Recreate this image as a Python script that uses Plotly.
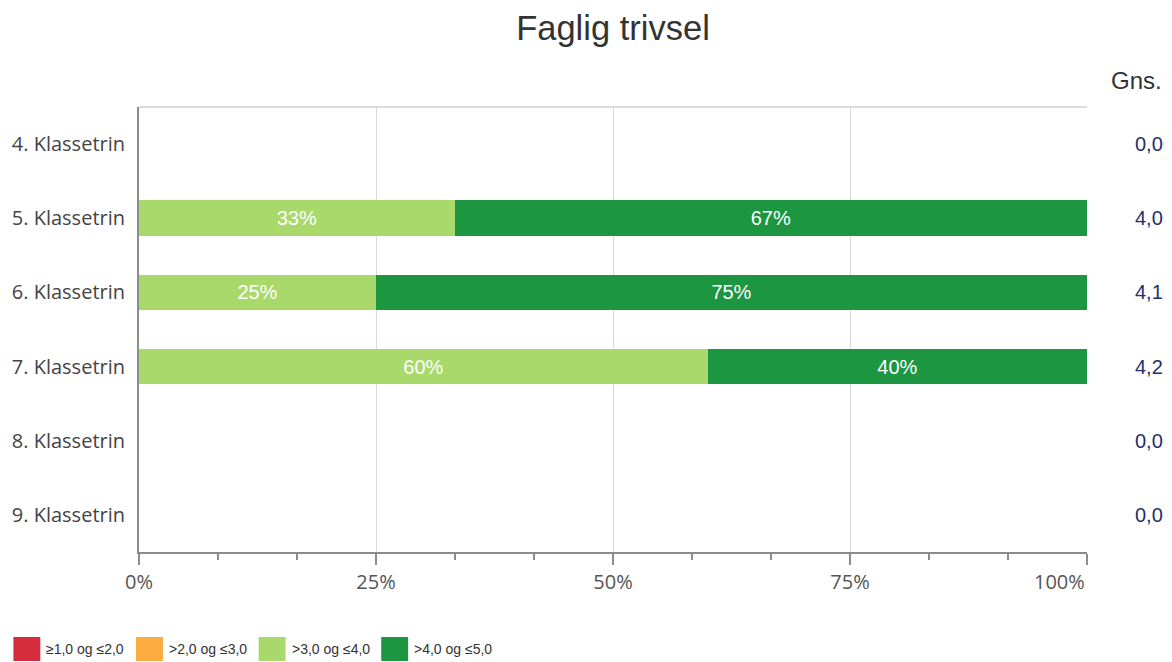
import plotly.graph_objects as go

categories = ["4. Klassetrin", "5. Klassetrin", "6. Klassetrin", "7. Klassetrin", "8. Klassetrin", "9. Klassetrin"]
series_names = ["≥1,0 og ≤2,0", ">2,0 og ≤3,0", ">3,0 og ≤4,0", ">4,0 og ≤5,0"]
series_colors = ["#d62d3e", "#fbad40", "#a8d96a", "#1c9641"]
s1 = [0, 0, 0, 0, 0, 0]
s2 = [0, 0, 0, 0, 0, 0]
s3 = [0, 33.3, 25, 60, 0, 0]
s4 = [0, 66.7, 75, 40, 0, 0]
series_values = [s1, s2, s3, s4]
gns = ["0,0", "4,0", "4,1", "4,2", "0,0", "0,0"]
x_ticks = [0, 25, 50, 75, 100]
x_ticktext = [f"{v}%" for v in x_ticks]

ARIAL = "Liberation Sans, Arial, sans-serif"
AXIS = "Open Sans, Lato, sans-serif"

# plot area in pixels (for legend placement)
PL, PR, PT, PB = 136, 1087, 107, 552
PW, PH = PR - PL, PB - PT

fig = go.Figure()
for name, color, vals in zip(series_names, series_colors, series_values):
    fig.add_trace(go.Bar(
        y=categories, x=vals, name=name, orientation="h",
        marker=dict(color=color, line=dict(width=0)),
        text=[v if v > 0 else None for v in vals],
        texttemplate="%{x:.0f}%", textposition="inside", insidetextanchor="middle",
        textfont=dict(color="white", size=20, family=ARIAL),
        showlegend=False, hoverinfo="skip",
    ))

annotations = [dict(text="Gns.", xref="paper", yref="paper", x=1.0, y=1.0, xanchor="right", yanchor="middle",
                    xshift=1164 - PR, yshift=PT - 80, showarrow=False,
                    font=dict(size=24, color="#333333", family=ARIAL))]
for cat, g in zip(categories, gns):
    annotations.append(dict(text=g, xref="paper", yref="y", x=1.0, y=cat, xanchor="left", yanchor="middle",
                            xshift=1133 - PR, showarrow=False, font=dict(size=20, color="#1f3070", family=ARIAL)))

# last x tick label is justified inside (right-aligned at its tick)
annotations.append(dict(text=x_ticktext[-1], xref="x", yref="paper", x=x_ticks[-1], y=0, xanchor="right",
                        yanchor="top", yshift=-14, showarrow=False,
                        font=dict(size=20, color="#555555", family=AXIS)))
shown_ticktext = x_ticktext[:-1] + [""]

# top border of plot area
shapes = [dict(type="line", xref="paper", yref="paper", x0=0, x1=1, y0=1, y1=1,
               line=dict(color="#d0d0d0", width=1.5))]

# legend built from series names/colours
for i, (name, color) in enumerate(zip(series_names, series_colors)):
    x0 = 10 + i * 123
    shapes.append(dict(type="rect", xref="paper", yref="paper",
                       x0=(x0 - PL) / PW, x1=(x0 + 27 - PL) / PW,
                       y0=(PB - 661) / PH, y1=(PB - 637) / PH,
                       fillcolor=color, line=dict(width=0)))
    annotations.append(dict(text=name, xref="paper", yref="paper", x=(x0 + 31 - PL) / PW, y=(PB - 649) / PH,
                            xanchor="left", yanchor="middle", showarrow=False,
                            font=dict(size=14, color="#333333", family=ARIAL)))

fig.update_layout(
    barmode="stack",
    bargap=0.52,
    width=1172, height=662,
    margin=dict(l=PL, r=1172 - PR, t=PT, b=662 - PB),
    paper_bgcolor="white", plot_bgcolor="white",
    title=dict(text="Faglig trivsel", x=0.5, xref="paper", xanchor="center", y=1 - 28 / 662, yanchor="middle",
               font=dict(size=34.5, color="#333333", family=ARIAL)),
    xaxis=dict(range=[0, 100], tickvals=x_ticks, ticktext=shown_ticktext, showgrid=True, gridcolor="#d9d9d9",
               gridwidth=1, zeroline=False, showline=True, linecolor="#8c8c8c", linewidth=2,
               ticks="outside", ticklen=11, tickcolor="#8c8c8c", tickwidth=1.5,
               minor=dict(dtick=25 / 3, tick0=0, ticklen=6, tickcolor="#8c8c8c", ticks="outside", showgrid=False),
               tickfont=dict(size=20, color="#555555", family=AXIS), fixedrange=True),
    yaxis=dict(autorange="reversed", showline=True, linecolor="#8c8c8c", linewidth=2, showgrid=False,
               ticks="outside", ticklen=8, tickcolor="rgba(0,0,0,0)",
               tickfont=dict(size=20, color="#444444", family=AXIS), fixedrange=True),
    annotations=annotations,
    shapes=shapes,
    showlegend=False,
)

fig.write_html("out.html", config={"displayModeBar": False, "staticPlot": True},
               post_script="document.body.style.margin='0px';document.body.style.overflow='hidden';")
